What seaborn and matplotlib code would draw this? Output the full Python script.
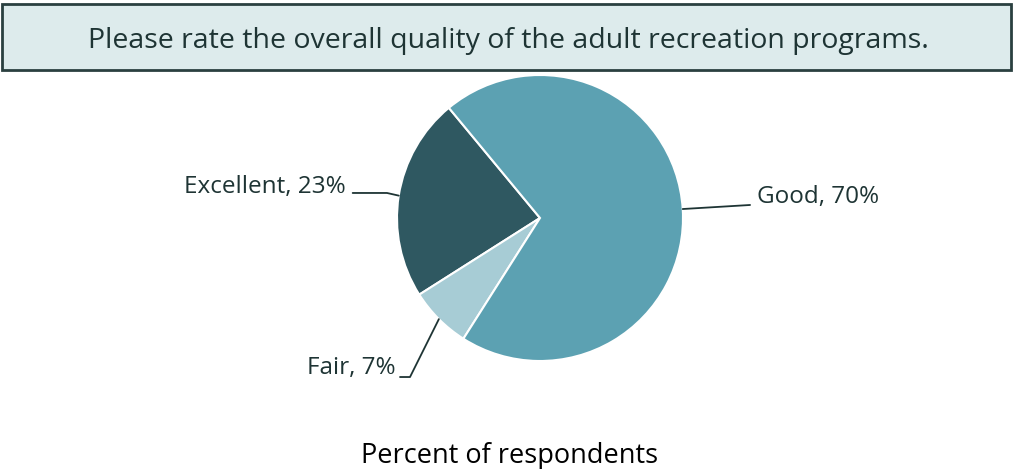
import matplotlib
matplotlib.use("Agg")
import matplotlib.pyplot as plt
import seaborn as sns
import numpy as np
from matplotlib.patches import FancyBboxPatch

# Data
categories = ["Excellent", "Fair", "Good"]
percents = [23, 7, 70]
slice_colors = ["#2F5861", "#A7CCD5", "#5CA1B2"]
title_text = "Please rate the overall quality of the adult recreation programs."
footer_text = "Percent of respondents"

sns.set_theme(style="white")
plt.rcParams["font.family"] = ["Open Sans", "DejaVu Sans"]
text_col = "#1E3434"

fig = plt.figure(figsize=(10.14, 4.69), dpi=100)

# title banner
banner = FancyBboxPatch((2 / 1014, 1 - 70 / 469), 1009 / 1014, 66 / 469,
                        boxstyle="square,pad=0", transform=fig.transFigure,
                        facecolor="#DDEBEC", edgecolor="#2A4040", linewidth=2)
fig.patches.append(banner)
fig.text(508 / 1014, 1 - 41 / 469, title_text, ha="center", va="center",
         fontsize=20.5, color=text_col)

# pie axes sized so 1 data unit == 143 px
cx, cy, r = 540, 218, 143
ax = fig.add_axes([(cx - r) / 1014, (469 - cy - r) / 469, 2 * r / 1014, 2 * r / 469])
wedges, _ = ax.pie(percents, colors=sns.color_palette(slice_colors),
                   startangle=129.6, counterclock=True,
                   wedgeprops=dict(edgecolor="white", linewidth=1.5))
ax.set_xlim(-1, 1)
ax.set_ylim(-1, 1)
ax.set_aspect("auto")
ax.axis("off")

# leader lines and labels
label_layout = {
    "Excellent": dict(path=[(-1.07, 0.175), (-1.31, 0.175)], txt=(-1.36, 0.22), ha="right"),
    "Fair": dict(path=[(-0.909, -1.112), (-0.979, -1.112)], txt=(-1.01, -1.05), ha="right"),
    "Good": dict(path=[(1.469, 0.091)], txt=(1.515, 0.147), ha="left"),
}
for w, cat, p in zip(wedges, categories, percents):
    mid = np.deg2rad((w.theta1 + w.theta2) / 2)
    start = (np.cos(mid), np.sin(mid))
    lay = label_layout[cat]
    pts = [start] + lay["path"]
    xs, ys = zip(*pts)
    ax.plot(xs, ys, color=text_col, linewidth=1.3, clip_on=False)
    ax.text(lay["txt"][0], lay["txt"][1], f"{cat}, {p}%", ha=lay["ha"], va="center",
            fontsize=17.5, color=text_col, clip_on=False)

fig.text(510 / 1014, 1 - 456 / 469, footer_text, ha="center", va="center",
         fontsize=19.5, color="black")

fig.savefig("out.png", dpi=100)
